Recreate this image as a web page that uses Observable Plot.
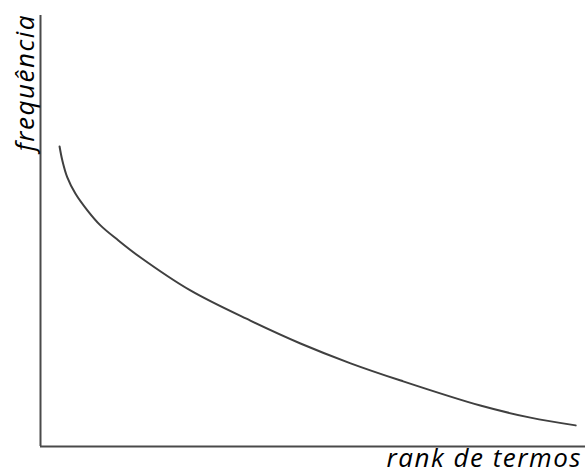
<!DOCTYPE html>
<html>
<head>
<meta charset="utf-8">
<script src="https://cdn.jsdelivr.net/npm/d3@7"></script>
<script src="https://cdn.jsdelivr.net/npm/@observablehq/plot@0.6"></script>
<style>
  html, body { margin: 0; padding: 0; background: #fff; }
  #chart svg { display: block; }
  #chart svg text { letter-spacing: 1.5px; }
</style>
</head>
<body>
<div id="chart"></div>
<script>
// Schematic Zipf-like curve: frequency vs term rank (arbitrary units 0–100)
const rank = [3.5, 4.0, 4.9, 6.4, 8.6, 11.0, 14.3, 18.3, 27.5, 38.5, 47.7, 56.9, 66.1, 80.7, 89.9, 98.2];
const freq = [69.6, 66.4, 62.5, 58.7, 54.8, 51.3, 47.8, 43.9, 36.2, 29.2, 23.9, 19.3, 15.3, 9.5, 6.7, 4.9];
const xLabel = "rank de termos";
const yLabel = "frequência";

const data = rank.map((r, i) => ({rank: r, freq: freq[i]}));

const chart = Plot.plot({
  width: 585,
  height: 474,
  marginLeft: 40,
  marginRight: 0,
  marginTop: 15,
  marginBottom: 28,
  x: {domain: [0, 100], axis: null},
  y: {domain: [0, 100], axis: null},
  style: {background: "#fff"},
  marks: [
    Plot.ruleX([0], {stroke: "#4a4a4a", strokeWidth: 2}),
    Plot.ruleY([0], {stroke: "#4a4a4a", strokeWidth: 2}),
    Plot.line(data, {x: "rank", y: "freq", curve: "catmull-rom", stroke: "#404040", strokeWidth: 2}),
    Plot.text([xLabel], {
      frameAnchor: "bottom-right", dx: -3.5, dy: 12.5, textAnchor: "end", lineAnchor: "middle",
      fontSize: 26, fontStyle: "italic", fontFamily: "'Open Sans', sans-serif", fill: "#000"
    }),
    Plot.text([yLabel], {
      frameAnchor: "top-left", dx: -15, dy: -1.5, rotate: -90, textAnchor: "end", lineAnchor: "middle",
      fontSize: 26, fontStyle: "italic", fontFamily: "'Open Sans', sans-serif", fill: "#000"
    })
  ]
});
document.getElementById("chart").appendChild(chart);
</script>
</body>
</html>
